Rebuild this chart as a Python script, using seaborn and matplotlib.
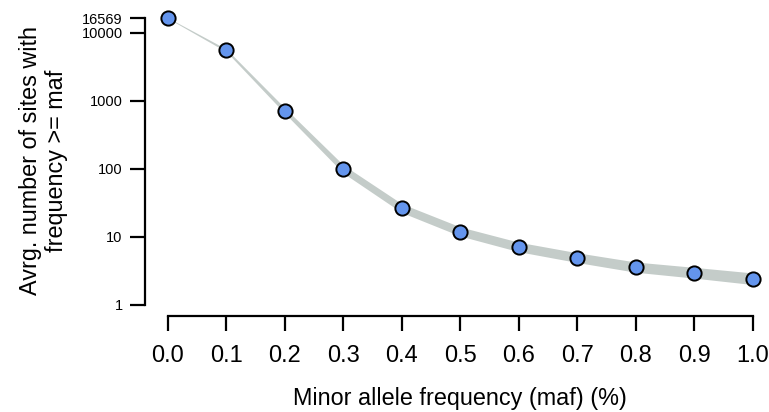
import seaborn as sns
import matplotlib.pyplot as plt
import pandas as pd

# values
maf = [0.0, 0.1, 0.2, 0.3, 0.4, 0.5, 0.6, 0.7, 0.8, 0.9, 1.0]
avg_sites = [16569, 5530, 716, 99, 26.3, 11.9, 7.05, 4.91, 3.56, 2.94, 2.40]
band_low = [16380, 5280, 653, 86.2, 22.6, 10.2, 6.0, 4.16, 2.99, 2.45, 1.97]
band_high = [16760, 5790, 785, 113.6, 30.5, 13.9, 8.28, 5.79, 4.23, 3.53, 2.92]
y_ticks = [1, 10, 100, 1000, 10000, 16569]
y_ticklabels = ["1", "10", "100", "1000", "10000", "16569"]
x_ticks = [0.0, 0.1, 0.2, 0.3, 0.4, 0.5, 0.6, 0.7, 0.8, 0.9, 1.0]

df = pd.DataFrame({"maf": maf, "sites": avg_sites, "low": band_low, "high": band_high})

sns.set_theme(style="ticks")
plt.rcParams['font.family'] = ['Liberation Sans', 'DejaVu Sans']

fig = plt.figure(figsize=(7.69, 4.12), dpi=100)
ax = fig.add_axes([0.188, 0.233, 0.821, 0.751])

ax.fill_between(df["maf"], df["low"], df["high"], color="#c4ccc9", linewidth=0, zorder=1)
sns.scatterplot(data=df, x="maf", y="sites", ax=ax, s=105, color="#6495ed",
                edgecolor="black", linewidth=1.4, zorder=3, clip_on=False)

ax.set_yscale("log")
ax.set_xlim(-0.04, 1.04)
ax.set_ylim(10 ** -0.169, 10 ** (4.2193 + 0.169))

ax.set_yticks(y_ticks)
ax.set_yticklabels(y_ticklabels)
ax.minorticks_off()
ax.set_xticks(x_ticks)
ax.set_xticklabels([f"{v:.1f}" for v in x_ticks])

for side in ["top", "right"]:
    ax.spines[side].set_visible(False)
ax.spines["left"].set_bounds(1, 16569)
ax.spines["bottom"].set_bounds(0, 1)
for side in ["left", "bottom"]:
    ax.spines[side].set_linewidth(1.6)
    ax.spines[side].set_color("black")

ax.tick_params(axis="y", length=10.8, width=1.6, pad=5, labelsize=10.5, colors="black")
ax.tick_params(axis="x", length=10.8, width=1.6, pad=10, labelsize=17, colors="black")

ax.set_xlabel("")
ax.set_ylabel("")
fig.text(460 / 769, 0.017, "Minor allele frequency (maf) (%)", ha="center", va="baseline",
         fontsize=16.8, color="black")
fig.text(0.057, 0.61, "Avrg. number of sites with\nfrequency >= maf", ha="center",
         va="center", rotation=90, fontsize=16.8, linespacing=1.15, color="black")

fig.savefig("out.png", dpi=100)
